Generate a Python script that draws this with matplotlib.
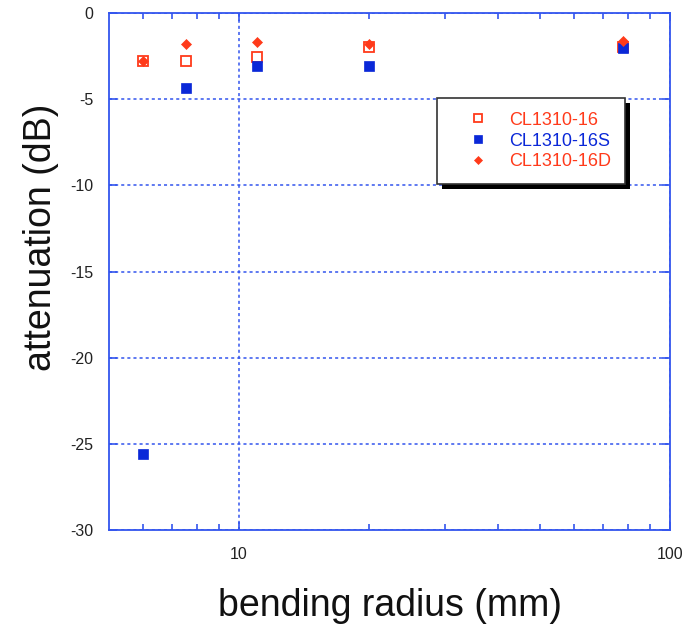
import matplotlib
matplotlib.use("Agg")
import matplotlib.pyplot as plt
from matplotlib.ticker import FixedLocator, NullFormatter
import matplotlib.patheffects as pe

plt.rcParams['font.family'] = ['Liberation Sans', 'DejaVu Sans']

radius = [6.0, 7.55, 11.0, 20.0, 78.0]
cl16 = [-2.8, -2.8, -2.55, -1.95, -2.0]
cl16s = [-25.6, -4.35, -3.05, -3.05, -2.05]
cl16d = [-2.8, -1.8, -1.7, -1.82, -1.6]

labels = ["CL1310-16", "CL1310-16S", "CL1310-16D"]
yticks = [0, -5, -10, -15, -20, -25, -30]
xticks = [10, 100]

RED = "#ff3a1a"
BLUE = "#0a28d8"
AX = "#3355ee"

fig = plt.figure(figsize=(6.88, 6.25), dpi=100)
ax = fig.add_axes([109/688, 95/625, 561/688, 517/625])
ax.set_xscale("log")
ax.set_xlim(5, 100)
ax.set_ylim(-30, 0)

ax.plot(radius, cl16, linestyle="none", marker="s", markersize=7.2,
        markerfacecolor="white", markeredgecolor=RED, markeredgewidth=1.3,
        label=labels[0], zorder=3)
ax.plot(radius, cl16s, linestyle="none", marker="s", markersize=7.2,
        color=BLUE, markeredgewidth=0.5, label=labels[1], zorder=4)
ax.plot(radius, cl16d, linestyle="none", marker="D", markersize=5.5,
        color=RED, markeredgewidth=0.5, label=labels[2], zorder=5)

ax.xaxis.set_major_locator(FixedLocator(xticks))
ax.xaxis.set_minor_locator(FixedLocator([6, 7, 8, 9, 20, 30, 40, 50, 60, 70, 80, 90]))
ax.xaxis.set_minor_formatter(NullFormatter())
ax.set_xticklabels([str(v) for v in xticks])
ax.set_yticks(yticks)
ax.set_yticklabels([str(v) for v in yticks])

for s in ax.spines.values():
    s.set_color(AX)
    s.set_linewidth(1.3)

ax.tick_params(which="both", direction="in", top=True, right=True,
               color=AX, labelsize=11.5, labelcolor="#222222")
ax.tick_params(which="major", length=6, width=1.2)
ax.tick_params(axis="y", which="major", pad=11.5)
ax.tick_params(axis="x", which="major", pad=12)
ax.tick_params(which="minor", length=4, width=1.2)

ax.grid(True, which="major", color=AX, linestyle=(0, (2, 2)), linewidth=1.1)

ax.set_xlabel("bending radius (mm)", fontsize=27, labelpad=19, color="#111111")
ax.set_ylabel("attenuation (dB)", fontsize=27, labelpad=8, color="#111111")
ax.yaxis.label.set_y((625 - 237 - 95) / 517)

leg = ax.legend(loc="upper left", bbox_to_anchor=((437-109)/561, 1-(98-13)/517),
                frameon=True, fancybox=False, shadow=False, fontsize=13,
                handlelength=3.0, handletextpad=0.25, borderpad=0.75,
                labelspacing=0.22, borderaxespad=0, markerscale=0.8)
fr = leg.get_frame()
fr.set_edgecolor("#333333")
fr.set_linewidth(1.2)
fr.set_facecolor("white")
fr.set_alpha(1)
fr.set_path_effects([pe.SimplePatchShadow(offset=(3.6, -3.6), shadow_rgbFace="black", alpha=1.0), pe.Normal()])
for t, c in zip(leg.get_texts(), [RED, BLUE, RED]):
    t.set_color(c)
leg.set_zorder(10)

fig.savefig("out.png", dpi=100, facecolor="white")
